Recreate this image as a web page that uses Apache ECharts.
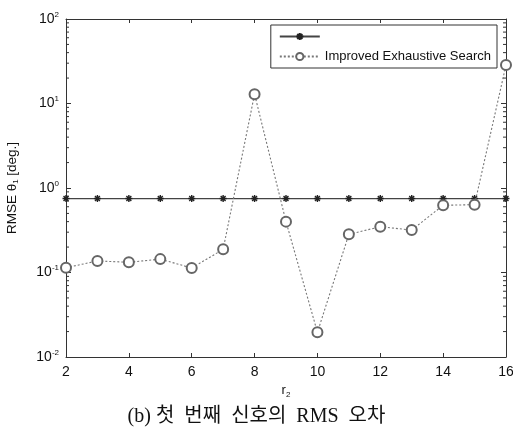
<!DOCTYPE html>
<html>
<head>
<meta charset="utf-8">
<script src="https://cdn.jsdelivr.net/npm/echarts@6/dist/echarts.min.js"></script>
<style>html,body{margin:0;padding:0;background:#fff}#c{width:513px;height:439px}</style>
</head>
<body>
<div id="c"></div>
<script>
// ---- data ----
const r2 = [2, 3, 4, 5, 6, 7, 8, 9, 10, 11, 12, 13, 14, 15, 16];
const baseline = [0.75, 0.75, 0.75, 0.75, 0.75, 0.75, 0.75, 0.75, 0.75, 0.75, 0.75, 0.75, 0.75, 0.75, 0.75];
const improved = [0.114, 0.137, 0.132, 0.144, 0.113, 0.188, 12.9, 0.40, 0.0196, 0.283, 0.348, 0.318, 0.624, 0.635, 28.6];
const xTicks = [2, 4, 6, 8, 10, 12, 14, 16];
const seriesNames = [' ', 'Improved Exhaustive Search'];
const caption = '(b) 첫  번째  신호의  RMS  오차';

const minorVals = [];
for (let k = -2; k < 2; k++) for (let m = 2; m <= 9; m++) minorVals.push(m * Math.pow(10, k));

const chart = echarts.init(document.getElementById('c'), null, {renderer: 'canvas'});
const axisCol = '#333';
const font = "'Liberation Sans', Arial, sans-serif";
const supRich = {
  b: {fontSize: 14, fontFamily: font, color: '#111'},
  s: {fontSize: 8, fontFamily: font, color: '#111', padding: [0, 0, 9, 0]}
};
const subRich = {
  b: {fontSize: 13, fontFamily: font, color: '#111'},
  s: {fontSize: 8, fontFamily: font, color: '#111', padding: [8, 0, 0, 0]}
};

const baseAxisX = {
  type: 'value', min: 2, max: 16, interval: 2,
  axisLine: {lineStyle: {color: axisCol, width: 1}},
  axisTick: {inside: true, length: 4, lineStyle: {color: axisCol}},
  splitLine: {show: false}
};
const baseAxisY = {
  type: 'log', logBase: 10, min: 0.01, max: 100,
  axisLine: {lineStyle: {color: axisCol, width: 1}},
  axisTick: {inside: true, length: 5, lineStyle: {color: axisCol}},
  splitLine: {show: false}
};

chart.setOption({
  animation: false,
  backgroundColor: '#fff',
  title: {
    text: caption, left: 'center', top: 402,
    textStyle: {fontFamily: "'Liberation Serif', 'Noto Sans CJK KR', serif", fontSize: 20, fontWeight: 'normal', color: '#111'}
  },
  grid: {left: 66, right: 7, top: 19, bottom: 82, containLabel: false, outerBoundsMode: 'none'},
  legend: {
    right: 16, top: 25, orient: 'vertical',
    data: seriesNames,
    itemWidth: 40, itemHeight: 9, itemGap: 7,
    padding: [5, 6, 5, 8],
    borderColor: '#333', borderWidth: 1, backgroundColor: '#fff',
    textStyle: {fontFamily: font, fontSize: 13, color: '#111'}
  },
  xAxis: [
    Object.assign({}, baseAxisX, {
      position: 'bottom',
      axisLabel: {fontFamily: font, fontSize: 14, color: '#111', margin: 8, customValues: xTicks},
      name: '{b|r}{s|2}', nameLocation: 'middle', nameGap: 25,
      nameTextStyle: {rich: subRich}
    }),
    Object.assign({}, baseAxisX, {position: 'top', axisLabel: {show: false}})
  ],
  yAxis: [
    Object.assign({}, baseAxisY, {
      position: 'left',
      axisLabel: {
        margin: 7,
        formatter: v => '{b|10}{s|' + Math.round(Math.log10(v)) + '}',
        rich: supRich
      },
      name: '{b|RMSE θ}{s|1}{b| [deg.]}', nameLocation: 'middle', nameGap: 46,
      nameTextStyle: {rich: {
        b: {fontSize: 13.5, fontFamily: font, color: '#111'},
        s: {fontSize: 8, fontFamily: font, color: '#111', padding: [8, 0, 0, 0]}
      }}
    }),
    Object.assign({}, baseAxisY, {position: 'right', axisLabel: {show: false}})
  ],
  series: [
    {
      name: seriesNames[0], type: 'line',
      data: r2.map((x, i) => [x, baseline[i]]),
      symbol: 'path://M4,0L4,8M0,4L8,4M1.2,1.2L6.8,6.8M6.8,1.2L1.2,6.8',
      symbolSize: 7, showSymbol: true,
      itemStyle: {color: 'transparent', borderColor: '#222', borderWidth: 1.4},
      lineStyle: {color: '#444', width: 1.2, type: 'solid'},
      z: 3
    },
    {
      name: seriesNames[1], type: 'line',
      data: r2.map((x, i) => [x, improved[i]]),
      symbol: 'emptyCircle', symbolSize: 10,
      itemStyle: {color: '#666', borderColor: '#666', borderWidth: 1},
      lineStyle: {color: '#777', width: 1.1, type: [2, 2]},
      z: 4
    },
    {
      type: 'custom', silent: true,
      data: minorVals.map(v => [2, v]),
      renderItem: function (params, api) {
        const p = api.coord([2, api.value(1)]);
        const cs = params.coordSys;
        return {type: 'group', children: [
          {type: 'line', shape: {x1: cs.x, y1: p[1], x2: cs.x + 3, y2: p[1]}, style: {stroke: axisCol, lineWidth: 1}},
          {type: 'line', shape: {x1: cs.x + cs.width - 3, y1: p[1], x2: cs.x + cs.width, y2: p[1]}, style: {stroke: axisCol, lineWidth: 1}}
        ]};
      },
      z: 1
    }
  ]
});
</script>
</body>
</html>
